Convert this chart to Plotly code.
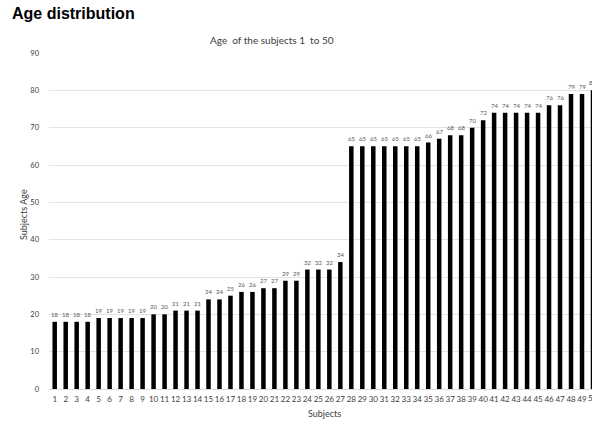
import plotly.graph_objects as go

subjects = list(range(1, 51))
ages = [18, 18, 18, 18, 19, 19, 19, 19, 19, 20,
        20, 21, 21, 21, 24, 24, 25, 26, 26, 27,
        27, 29, 29, 32, 32, 32, 34, 65, 65, 65,
        65, 65, 65, 65, 66, 67, 68, 68, 70, 72,
        74, 74, 74, 74, 74, 76, 76, 79, 79, 80]
y_ticks = list(range(0, 91, 10))

HEAD_FONT = "Liberation Sans"
BODY_FONT = "Lato"
TEXT_GREY = "#404040"

W, H = 592, 426
L, R, T, B = 49, 0, 53, 37
plot_w = W - L - R
X_RANGE = [0.48, 49.91]


def px_to_paper_x(px):
    return (px - L) / plot_w


def data_to_paper_x(v):
    return (v - X_RANGE[0]) / (X_RANGE[1] - X_RANGE[0])


fig = go.Figure(
    go.Bar(
        x=subjects,
        y=ages,
        marker=dict(color="#000000", line=dict(width=0)),
        hoverinfo="x+y",
    )
)

# value labels above each bar (paper x so the last, partly cut bar keeps its label)
value_labels = [
    dict(x=data_to_paper_x(s), y=a, xref="paper", yref="y", text=str(a),
         showarrow=False, xanchor="center", yanchor="bottom", yshift=2,
         font=dict(family=BODY_FONT, size=6, color="#595959"))
    for s, a in zip(subjects, ages)
]

# category label of the last subject, which sits on the edge of the plot
edge_tick = [
    dict(x=data_to_paper_x(subjects[-1]), y=0, xref="paper", yref="paper",
         text=str(subjects[-1]), showarrow=False, xanchor="center",
         yanchor="top", yshift=-2,
         font=dict(family=BODY_FONT, size=8, color=TEXT_GREY))
]

titles = [
    dict(text="<b>Age distribution</b>", xref="paper", yref="paper",
         x=px_to_paper_x(10), y=1, xanchor="left", yanchor="bottom", yshift=29,
         showarrow=False, font=dict(family=HEAD_FONT, size=16, color="#000000")),
    dict(text="Age  of the subjects 1  to 50", xref="paper", yref="paper",
         x=px_to_paper_x(272), y=1, xanchor="center", yanchor="bottom", yshift=5,
         showarrow=False, font=dict(family=BODY_FONT, size=10, color=TEXT_GREY)),
    dict(text="Subjects", xref="paper", yref="paper",
         x=px_to_paper_x(324), y=0, xanchor="center", yanchor="middle", yshift=-24,
         showarrow=False, font=dict(family=BODY_FONT, size=9, color=TEXT_GREY)),
    dict(text="Subjects Age", xref="paper", yref="paper",
         x=px_to_paper_x(24), y=(H - B - 215) / (H - T - B), textangle=-90,
         xanchor="center", yanchor="middle",
         showarrow=False, font=dict(family=BODY_FONT, size=9, color=TEXT_GREY)),
]

fig.update_layout(
    width=W,
    height=H,
    margin=dict(l=L, r=R, t=T, b=B),
    paper_bgcolor="white",
    plot_bgcolor="white",
    bargap=0.59,
    showlegend=False,
    font=dict(family=BODY_FONT, color=TEXT_GREY),
    annotations=titles + value_labels + edge_tick,
)

fig.update_xaxes(
    range=X_RANGE,
    tickmode="array",
    tickvals=subjects,
    ticktext=[str(s) for s in subjects],
    tickfont=dict(family=BODY_FONT, size=8, color=TEXT_GREY),
    tickangle=0,
    showgrid=False,
    showline=True,
    linecolor="#d9d9d9",
    linewidth=1,
    ticks="",
    zeroline=False,
    ticklabelstandoff=2,
)
fig.update_yaxes(
    range=[0, 90],
    tickmode="array",
    tickvals=y_ticks,
    tickfont=dict(family=BODY_FONT, size=7.5, color=TEXT_GREY),
    showgrid=True,
    gridcolor="#e4e4e4",
    gridwidth=1,
    zeroline=False,
    showline=False,
    ticks="",
    ticklabelstandoff=9,
)

fig.write_html("out.html")
